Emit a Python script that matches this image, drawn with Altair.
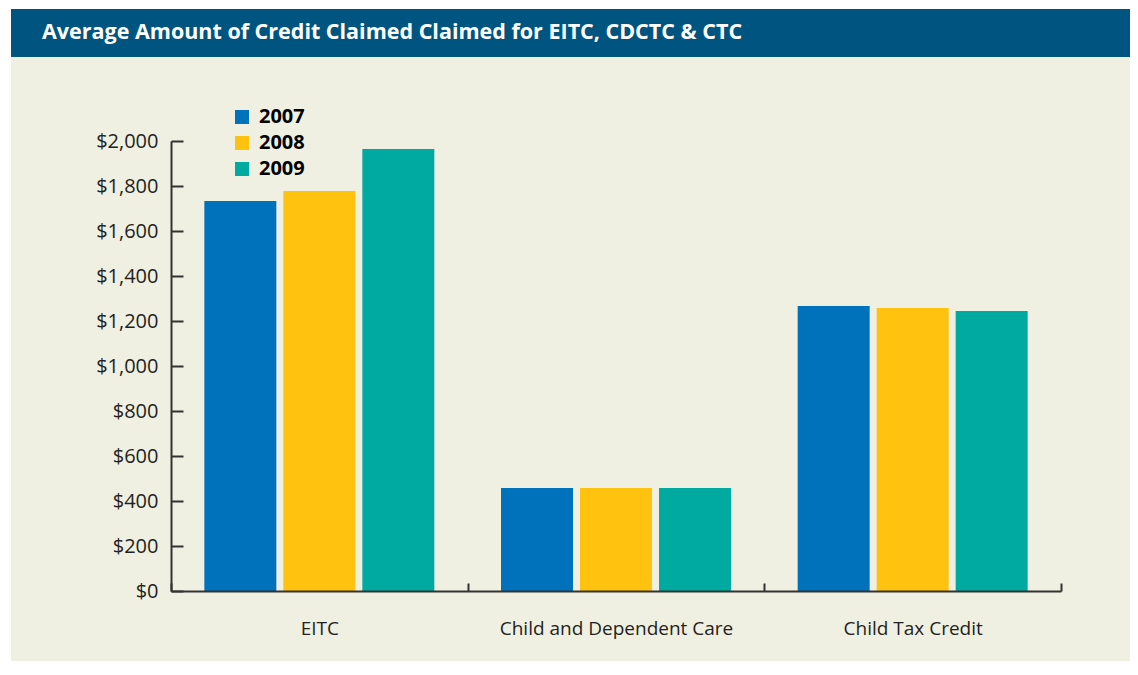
import altair as alt
import pandas as pd

categories = ["EITC", "Child and Dependent Care", "Child Tax Credit"]
years = ["2007", "2008", "2009"]
v2007 = [1733, 458, 1267]
v2008 = [1778, 458, 1258]
v2009 = [1964, 458, 1244]
colors = ["#0071bb", "#ffc20f", "#00aaa1"]
y_ticks = [0, 200, 400, 600, 800, 1000, 1200, 1400, 1600, 1800, 2000]
title_text = "Average Amount of Credit Claimed Claimed for EITC, CDCTC & CTC"

rows = []
for yr, vals in zip(years, [v2007, v2008, v2009]):
    for c, v in zip(categories, vals):
        rows.append({"category": c, "year": yr, "amount": v})
df = pd.DataFrame(rows)

W, H = 890, 450
PL, PT, PR, PB = 163, 133, 69, 70
BG = "#f0f0e2"
BANNER = "#005580"
AXC = "#333333"
FONT = "Open Sans"

one = alt.Data(values=[{}])

panel = alt.Chart(one).mark_rect(color=BG).encode(
    x=alt.value(-160), x2=alt.value(W + PR), y=alt.value(-84), y2=alt.value(H + PB)
)
banner = alt.Chart(one).mark_rect(color=BANNER).encode(
    x=alt.value(-160), x2=alt.value(W + PR), y=alt.value(-132), y2=alt.value(-84)
)
title = alt.Chart(one).mark_text(
    text=title_text, align="left", baseline="middle",
    font=FONT, fontWeight="bold", fontSize=21.5, color="white"
).encode(x=alt.value(-129), y=alt.value(-108))

bars = alt.Chart(df).mark_bar().encode(
    x=alt.X(
        "category:N", sort=categories,
        scale=alt.Scale(paddingInner=0, paddingOuter=0),
        axis=alt.Axis(
            title=None, labelAngle=0, tickBand="extent", labelLimit=500,
            tickSize={"expr": "-8"}, labelPadding=36,
            labelFont=FONT, labelFontSize=19, labelColor="#231f20",
            domainColor=AXC, domainWidth=2, tickColor=AXC, tickWidth=2,
            zindex=1,
        ),
    ),
    xOffset=alt.XOffset(
        "year:N", sort=years,
        scale=alt.Scale(paddingInner=0.0886, paddingOuter=0.422),
    ),
    y=alt.Y(
        "amount:Q",
        scale=alt.Scale(domain=[0, 2000], nice=False),
        axis=alt.Axis(
            title=None, values=y_ticks, format="$,.0f", grid=False,
            tickSize={"expr": "-12"}, labelPadding=25,
            labelFont=FONT, labelFontSize=20, labelColor="#231f20",
            domainColor=AXC, domainWidth=2, tickColor=AXC, tickWidth=2,
            zindex=1,
        ),
    ),
    color=alt.Color(
        "year:N",
        scale=alt.Scale(domain=years, range=colors),
        legend=alt.Legend(
            title=None, orient="none", legendX=61, legendY=-34,
            direction="vertical", symbolType="square", symbolSize=196,
            symbolStrokeWidth=0, labelFont=FONT, labelFontWeight="bold",
            labelFontSize=20, labelColor="black", labelOffset=7,
            rowPadding=6, padding=0,
        ),
    ),
)

chart = alt.layer(panel, banner, title, bars).properties(
    width=W, height=H,
    autosize=alt.AutoSizeParams(type="none"),
    padding={"left": PL, "top": PT, "right": PR, "bottom": PB},
    background="white",
).configure_view(strokeWidth=0)

chart.save("out.html", embed_options={"renderer": "svg", "actions": False})
